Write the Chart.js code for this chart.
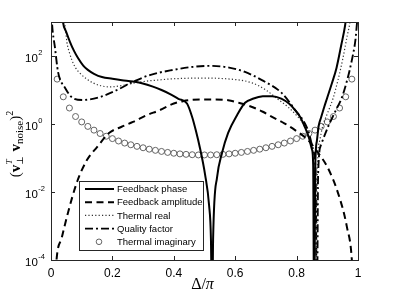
<!DOCTYPE html>
<html>
<head>
<meta charset="utf-8">
<script src="https://cdn.jsdelivr.net/npm/chart.js@4.4.0/dist/chart.umd.min.js"></script>
<style>
html, body { margin: 0; padding: 0; background: #fff; }
</style>
</head>
<body>
<canvas id="c" width="395" height="293"></canvas>
<script>
// valores (eixo y em escala log)
const phaseX = [0.036,0.039,0.05,0.062,0.075,0.088,0.105,0.12,0.14,0.166,0.2,0.231,0.267,0.296,0.332,0.36,0.388,0.415,0.443,0.46,0.472,0.485,0.502,0.515,0.521,0.525,0.528,0.541,0.557,0.577,0.606,0.632,0.66,0.69,0.72,0.75,0.775,0.795,0.812,0.827,0.84,0.85,0.854,0.857,0.861,0.866,0.872,0.88,0.89,0.9,0.915,0.93,0.945,0.958,0.962];
const phaseY = [2000,1000,500,257,141,87,52,39,30,24,21.4,19.5,17.8,15.8,12.6,10,7.6,5.5,4.0,1.58,0.63,0.2,0.032,0.004,0.0004,0.000001,0.0004,0.0275,0.141,0.55,1.82,4.2,5.6,6.5,6.6,5.6,4.0,2.57,1.58,0.81,0.4,0.178,0.063,0.000001,0.063,0.316,0.89,1.58,3.16,6.0,15.8,44.7,200,794,1585];

const amplitudeX = [0.012,0.018,0.035,0.056,0.085,0.117,0.15,0.19,0.23,0.267,0.31,0.355,0.4,0.43,0.485,0.53,0.577,0.62,0.655,0.69,0.72,0.76,0.795,0.837,0.87,0.9,0.935,0.964,0.98,0.985];
const amplitudeY = [1e-5,1e-4,4.5e-4,2.6e-3,0.02,0.087,0.21,0.55,0.83,1.15,1.78,2.57,4.0,4.7,5.25,5.25,5.0,4.0,3.16,2.29,1.62,1.05,0.66,0.34,0.141,0.055,0.0093,0.00093,1e-4,1e-5];

const realX = [0.042,0.046,0.052,0.06,0.068,0.08,0.094,0.115,0.137,0.165,0.192,0.23,0.267,0.31,0.345,0.4,0.485,0.57,0.655,0.7,0.73,0.772,0.8,0.825,0.845,0.856,0.862,0.868,0.875,0.886,0.9,0.919,0.935,0.951,0.965,0.974,0.978];
const realY = [1585,794,251,126,76,44.7,31.6,21.4,16.2,13.2,12.3,13.5,15.8,18.2,19.5,21.4,22.4,21.4,16.2,10,6.2,3.16,1.78,0.89,0.316,0.063,0.000001,0.063,0.316,0.93,2.0,5.75,20,87,398,1000,2000];

const qualityX = [0.001,0.003,0.013,0.023,0.046,0.072,0.104,0.16,0.215,0.267,0.322,0.397,0.463,0.518,0.58,0.632,0.687,0.752,0.795,0.837,0.855,0.862,0.866,0.87,0.88,0.902,0.925,0.948,0.965,0.98,0.992,0.997,1.0];
const qualityY = [2500,1000,174,33.9,11.5,5.75,5.1,6.2,10,17.4,27.5,38.9,47.9,51.3,45.7,33.9,19.5,8.1,2.57,0.66,0.158,0.0316,0.000001,0.0316,0.25,0.81,2.24,6.2,20,75.9,316,1000,2000];

const imagX = [0.02,0.04,0.06,0.08,0.1,0.12,0.14,0.16,0.18,0.2,0.22,0.24,0.26,0.28,0.3,0.32,0.34,0.36,0.38,0.4,0.42,0.44,0.46,0.48,0.5,0.52,0.54,0.56,0.58,0.6,0.62,0.64,0.66,0.68,0.7,0.72,0.74,0.76,0.78,0.8,0.82,0.84,0.86,0.88,0.9,0.92,0.94,0.96,0.98];
const imagY = [20.9,6.3,2.95,1.66,1.15,0.85,0.66,0.525,0.437,0.372,0.316,0.275,0.245,0.22,0.2,0.182,0.168,0.156,0.146,0.138,0.132,0.128,0.125,0.123,0.123,0.123,0.125,0.128,0.132,0.138,0.146,0.156,0.168,0.182,0.2,0.22,0.245,0.275,0.316,0.372,0.437,0.525,0.66,0.85,1.15,1.66,2.95,6.3,20.9];

const legendLabels = ['Feedback phase', 'Feedback amplitude', 'Thermal real', 'Quality factor', 'Thermal imaginary'];
const xTicks = [0, 0.2, 0.4, 0.6, 0.8, 1];
const xTickLabels = ['0', '0.2', '0.4', '0.6', '0.8', '1'];
const yTicks = [1e-4, 1e-2, 1, 1e2];
const yTickExps = ['-4', '-2', '0', '2'];

function pts(xs, ys) {
  return xs.map((x, i) => ({ x: x, y: ys[i] }));
}

const SANS = '"Liberation Sans", Arial, sans-serif';
const SERIF = '"Liberation Serif", "Times New Roman", serif';

// desenha moldura, ticks internos, rotulos e legenda (estilo matlab)
const frame = {
  id: 'frame',
  afterDatasetsDraw(chart) {
    const ctx = chart.ctx, a = chart.chartArea;
    const xs = chart.scales.x, ys = chart.scales.y;
    ctx.save();
    ctx.strokeStyle = '#262626';
    ctx.lineWidth = 1;
    ctx.strokeRect(a.left + 0.5, a.top + 0.5, a.right - a.left, a.bottom - a.top);
    ctx.beginPath();
    xTicks.forEach(v => {
      const px = Math.round(xs.getPixelForValue(v)) + 0.5;
      ctx.moveTo(px, a.bottom); ctx.lineTo(px, a.bottom - 4);
      ctx.moveTo(px, a.top); ctx.lineTo(px, a.top + 4);
    });
    yTicks.forEach(v => {
      const py = Math.round(ys.getPixelForValue(v)) + 0.5;
      ctx.moveTo(a.left, py); ctx.lineTo(a.left + 4, py);
      ctx.moveTo(a.right, py); ctx.lineTo(a.right - 4, py);
    });
    ctx.stroke();

    // rotulos do eixo x
    ctx.fillStyle = '#000';
    ctx.font = '12px ' + SANS;
    ctx.textAlign = 'center';
    ctx.textBaseline = 'alphabetic';
    xTicks.forEach((v, i) => {
      ctx.fillText(xTickLabels[i], xs.getPixelForValue(v), a.bottom + 17);
    });
    // rotulos do eixo y: 10^n
    ctx.textAlign = 'left';
    yTicks.forEach((v, i) => {
      const py = ys.getPixelForValue(v);
      ctx.font = '11.5px ' + SANS;
      ctx.fillText('10', 25, py + 6);
      const w = ctx.measureText('10').width;
      ctx.font = '7.5px ' + SANS;
      ctx.fillText(yTickExps[i], 25 + w + 0.5, py - 1);
    });

    // titulo eixo x: Δ/π
    ctx.font = '16px ' + SERIF;
    const t1 = 'Δ/';
    const w1 = ctx.measureText(t1).width;
    ctx.font = 'italic 16px ' + SERIF;
    const w2 = ctx.measureText('π').width;
    const cx = (a.left + a.right) / 2 - 2;
    let x0 = cx - (w1 + w2) / 2;
    ctx.font = '16px ' + SERIF;
    ctx.fillText(t1, x0, 289);
    ctx.font = 'italic 16px ' + SERIF;
    ctx.fillText('π', x0 + w1, 289);

    // titulo eixo y: (v⊥^T v_noise)^2
    const parts = [
      { t: '(', f: '15px ' + SERIF, dy: 0 },
      { t: 'v', f: 'bold 15px ' + SERIF, dy: 0 },
      { t: '⊥', f: '9px "DejaVu Serif", serif', dy: 3, sup: 'T' },
      { t: ' ', f: '15px ' + SERIF, dy: 0 },
      { t: 'v', f: 'bold 15px ' + SERIF, dy: 0 },
      { t: 'noise', f: '11px ' + SERIF, dy: 3 },
      { t: ')', f: '15px ' + SERIF, dy: 0 },
      { t: '2', f: '10px ' + SERIF, dy: -7 }
    ];
    let total = 0;
    parts.forEach(p => {
      ctx.font = p.f;
      p.w = ctx.measureText(p.t).width;
      if (p.sup) {
        ctx.font = 'italic 9px ' + SERIF;
        p.w = Math.max(p.w, ctx.measureText(p.sup).width) + 1;
      }
      total += p.w;
    });
    ctx.save();
    ctx.translate(20, (a.top + a.bottom) / 2 + 3);
    ctx.rotate(-Math.PI / 2);
    let px = -total / 2;
    parts.forEach(p => {
      ctx.font = p.f;
      ctx.fillText(p.t, px, p.dy);
      if (p.sup) {
        ctx.font = 'italic 9px ' + SERIF;
        ctx.fillText(p.sup, px + 0.5, -8);
      }
      px += p.w;
    });
    ctx.restore();

    // legenda
    const lx = 79, ly = 181, lw = 124, lh = 69;
    ctx.fillStyle = '#fff';
    ctx.fillRect(lx, ly, lw, lh);
    ctx.strokeStyle = '#262626';
    ctx.lineWidth = 1;
    ctx.strokeRect(lx + 0.5, ly + 0.5, lw, lh);
    chart.data.datasets.forEach((ds, i) => {
      const ry = ly + 8 + i * 13.2;
      if (ds.showLine) {
        ctx.save();
        ctx.strokeStyle = ds.borderColor;
        ctx.lineWidth = ds.borderWidth;
        ctx.setLineDash(ds.borderDash || []);
        ctx.beginPath();
        ctx.moveTo(85, ry);
        ctx.lineTo(114, ry);
        ctx.stroke();
        ctx.restore();
      } else {
        ctx.beginPath();
        ctx.strokeStyle = ds.borderColor;
        ctx.lineWidth = ds.borderWidth;
        ctx.arc(99, ry, 2.8, 0, Math.PI * 2);
        ctx.stroke();
      }
      ctx.fillStyle = '#000';
      ctx.font = '9.5px ' + SANS;
      ctx.textAlign = 'left';
      ctx.textBaseline = 'middle';
      ctx.fillText(legendLabels[i], 117, ry + 0.5);
    });
    ctx.restore();
  }
};

const lineBase = { showLine: true, pointRadius: 0, pointHoverRadius: 0, fill: false, cubicInterpolationMode: 'monotone' };

new Chart(document.getElementById('c'), {
  type: 'scatter',
  data: {
    datasets: [
      Object.assign({ label: legendLabels[0], data: pts(phaseX, phaseY), borderColor: '#000', borderWidth: 2 }, lineBase),
      Object.assign({ label: legendLabels[1], data: pts(amplitudeX, amplitudeY), borderColor: '#000', borderWidth: 2, borderDash: [7, 4.5] }, lineBase),
      Object.assign({ label: legendLabels[2], data: pts(realX, realY), borderColor: '#333', borderWidth: 1.2, borderDash: [1.2, 2.2] }, lineBase),
      Object.assign({ label: legendLabels[3], data: pts(qualityX, qualityY), borderColor: '#000', borderWidth: 1.9, borderDash: [8, 3, 2, 3] }, lineBase),
      {
        label: legendLabels[4], data: pts(imagX, imagY), showLine: false,
        pointStyle: 'circle', pointRadius: 3, pointHoverRadius: 3,
        borderColor: '#555', borderWidth: 0.9, backgroundColor: 'rgba(0,0,0,0)'
      }
    ]
  },
  options: {
    responsive: false,
    animation: false,
    devicePixelRatio: 1,
    layout: { padding: { left: 51, right: 37, top: 22, bottom: 33 } },
    scales: {
      x: { type: 'linear', min: 0, max: 1, display: false },
      y: { type: 'logarithmic', min: 1e-4, max: 1e3, display: false }
    },
    plugins: {
      legend: { display: false },
      tooltip: { enabled: false }
    }
  },
  plugins: [frame]
});
</script>
</body>
</html>
